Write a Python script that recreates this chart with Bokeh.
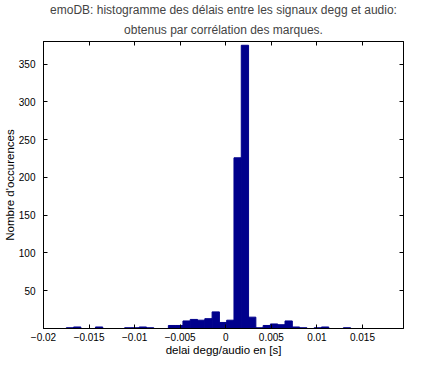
from bokeh.plotting import figure
from bokeh.models import Range1d, FixedTicker, LinearAxis, Title, ColumnDataSource
from bokeh.embed import file_html
from bokeh.resources import INLINE

# ---- data ----
bin_width = 0.0008
bin_centers = [
    -0.0195, -0.0187, -0.0179, -0.0171, -0.0163, -0.0155, -0.0147, -0.0139,
    -0.0131, -0.0123, -0.0115, -0.0107, -0.0099, -0.0091, -0.0083, -0.0075,
    -0.0067, -0.0059, -0.0051, -0.0043, -0.0035, -0.0027, -0.0019, -0.0011,
    -0.0003, 0.0005, 0.0013, 0.0021, 0.0029, 0.0037, 0.0045, 0.0053,
    0.0061, 0.0069, 0.0077, 0.0085, 0.0093, 0.0101, 0.0109, 0.0117,
    0.0125, 0.0133, 0.0141, 0.0149, 0.0157, 0.0165, 0.0173, 0.0181, 0.0189,
]
counts = [
    0, 0, 0, 1, 2, 0, 0, 2,
    0, 0, 0, 1, 1, 2, 1, 0,
    0, 4, 4, 10, 12, 11, 13, 22,
    8, 11, 226, 375, 15, 1, 4, 6,
    5, 10, 2, 1, 0, 1, 2, 0,
    0, 1, 0, 0, 0, 0, 0, 0, 0,
]
x_tick_values = [-0.02, -0.015, -0.01, -0.005, 0, 0.005, 0.01, 0.015]
x_tick_labels = ["\u22120.02", "\u22120.015", "\u22120.01", "\u22120.005", "0", "0.005", "0.01", "0.015"]
y_tick_values = [50, 100, 150, 200, 250, 300, 350]

title_line1 = "emoDB: histogramme des délais entre les signaux degg et audio:"
title_line2 = "obtenus par corrélation des marques."
x_label = "delai degg/audio en [s]"
y_label = "Nombre d'occurences"

FONT = "Liberation Sans"
BAR = "#00008C"

src = ColumnDataSource(dict(
    left=[c - bin_width / 2 for c in bin_centers],
    right=[c + bin_width / 2 for c in bin_centers],
    top=counts,
    bottom=[0] * len(counts),
))

p = figure(frame_width=360, frame_height=287, output_backend="svg", toolbar_location=None,
           x_range=Range1d(-0.02, 0.0195), y_range=Range1d(0, 380),
           x_axis_location=None, y_axis_location=None,
           min_border_left=42, min_border_right=1, min_border_top=35, min_border_bottom=28)
p.background_fill_color = "white"
p.border_fill_color = "white"
p.outline_line_color = "black"
p.outline_line_width = 1
p.xgrid.visible = False
p.ygrid.visible = False

p.quad(left="left", right="right", top="top", bottom="bottom", source=src,
       fill_color=BAR, line_color=BAR, line_width=1)

def style(ax, show_labels):
    ax.axis_line_color = "black"
    ax.major_tick_in = 4
    ax.major_tick_out = 0
    ax.minor_tick_in = 0
    ax.minor_tick_out = 0
    ax.major_tick_line_color = "black"
    ax.major_label_text_font = FONT
    ax.major_label_text_color = "black"
    ax.major_label_text_font_size = "10px"
    if show_labels:
        ax.major_label_standoff = 3
    else:
        ax.major_label_standoff = 0
    ax.axis_label_text_font = FONT
    ax.axis_label_text_font_style = "normal"
    ax.axis_label_text_font_size = "11.5px"
    ax.axis_label_text_color = "black"

xb = LinearAxis(ticker=FixedTicker(ticks=x_tick_values), axis_label=x_label)
xb.major_label_overrides = {v: s for v, s in zip(x_tick_values, x_tick_labels)}
style(xb, True)
xb.major_label_standoff = 4
xb.axis_label_standoff = 0
p.add_layout(xb, "below")

yl = LinearAxis(ticker=FixedTicker(ticks=y_tick_values), axis_label=y_label)
style(yl, True)
yl.major_label_standoff = 8
yl.axis_label_standoff = 0
p.add_layout(yl, "left")

xt = LinearAxis(ticker=FixedTicker(ticks=x_tick_values))
style(xt, False)
xt.major_label_overrides = {v: "" for v in x_tick_values}
p.add_layout(xt, "above")

yr = LinearAxis(ticker=FixedTicker(ticks=y_tick_values))
style(yr, False)
yr.major_label_overrides = {v: "" for v in y_tick_values}
p.add_layout(yr, "right")

t2 = Title(text=title_line2, align="center", text_font=FONT, text_font_size="12px",
           text_font_style="normal", standoff=9)
t1 = Title(text=title_line1, align="center", text_font=FONT, text_font_size="12px",
           text_font_style="normal", standoff=0)
p.add_layout(t2, "above")
p.add_layout(t1, "above")

open("out.html", "w").write(file_html(p, INLINE))
